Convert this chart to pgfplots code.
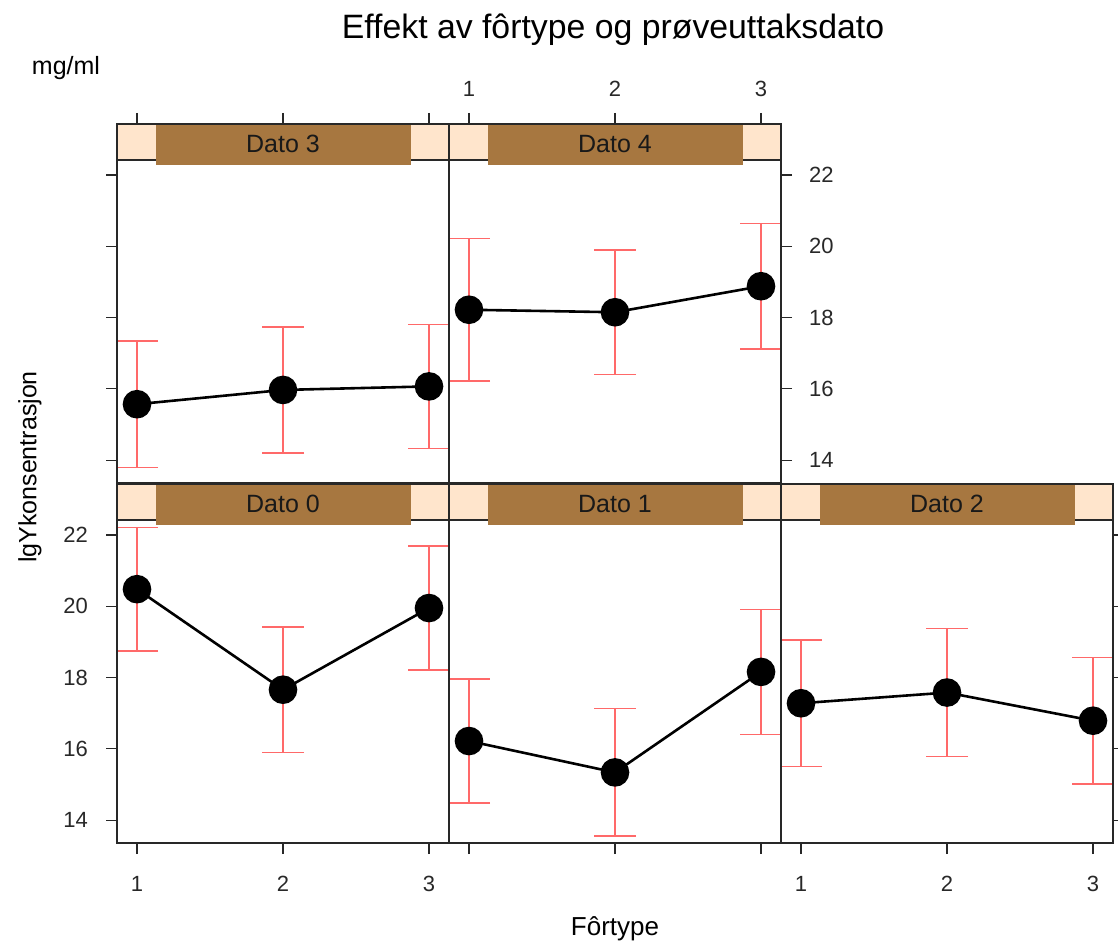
\documentclass[border=0pt]{standalone}
\usepackage{pgfplots}
\pgfplotsset{compat=1.18}
\usepackage{fontspec}
\setmainfont{Liberation Sans}
\definecolor{stripbg}{RGB}{255,229,204}
\definecolor{stripfg}{RGB}{167,119,64}
\definecolor{errred}{RGB}{255,105,105}
\definecolor{axgray}{RGB}{40,40,40}

\pgfplotsset{
  panel/.style={
    scale only axis, width=166pt, height=179.5pt,
    xmin=0.863, xmax=3.137, ymin=13.36, ymax=23.43,
    xtick={1,2,3}, ytick={14,16,18,20,22},
    tick align=outside, major tick length=5.5pt,
    axis line style={axgray, line width=0.75pt},
    every tick/.style={axgray, line width=0.6pt},
    tick label style={font=\fontsize{11}{13}\selectfont, text=axgray},
    /pgf/number format/assume math mode=true,
    axis on top=true,
    anchor=south west,
  },
  botlab/.style={xtick pos=left, xticklabel pos=left, xticklabel style={anchor=center, yshift=-15pt}},
  botnolab/.style={xtick pos=left, xticklabels={}},
  toplab/.style={xtick pos=right, xticklabel pos=right, xticklabel style={anchor=center, yshift=12pt}},
  topnolab/.style={xtick pos=right, xticklabels={}},
  leftlab/.style={ytick pos=left, yticklabel pos=left, yticklabel style={anchor=east, xshift=-5.5pt}},
  leftnolab/.style={ytick pos=left, yticklabels={}},
  rightlab/.style={ytick pos=right, yticklabel pos=right, yticklabel style={anchor=west, xshift=5pt}},
  rightnolab/.style={ytick pos=right, yticklabels={}},
  noy/.style={ytick=\empty},
  errplot/.style={only marks, mark=none, forget plot,
    error bars/.cd, y dir=both, y explicit,
    error mark=|,
    error bar style={errred, line width=0.75pt},
    error mark options={errred, line width=0.75pt, mark size=10.5pt}},
  meanplot/.style={black, line width=1.3pt, mark=*, mark size=6.5pt, mark options={fill=black, solid}},
}

\newcommand{\strip}[1]{%
  \fill[stripbg] (0.863,22.42) rectangle (3.137,23.43);
  \draw[axgray, line width=0.75pt] (0.863,22.42) -- (3.137,22.42);
  \fill[stripfg] (1.13,22.27) rectangle (2.88,23.43);
  \node[font=\fontsize{12.5}{15}\selectfont, text=black!90] at (2,22.86) {#1};
}

\begin{document}
\begin{tikzpicture}
\useasboundingbox (0,0) rectangle (559pt,471.5pt);

% Dato 0
\begin{axis}[panel, botlab, leftlab, at={(58.5pt,50pt)}]
\strip{Dato 0}
\addplot[errplot] coordinates {(1,20.48) +- (0,1.73) (2,17.66) +- (0,1.76) (3,19.95) +- (0,1.74)};
\addplot[meanplot] coordinates {(1,20.48) (2,17.66) (3,19.95)};
\end{axis}

% Dato 1
\begin{axis}[panel, botnolab, noy, at={(224.5pt,50pt)}]
\strip{Dato 1}
\addplot[errplot] coordinates {(1,16.22) +- (0,1.74) (2,15.34) +- (0,1.79) (3,18.16) +- (0,1.75)};
\addplot[meanplot] coordinates {(1,16.22) (2,15.34) (3,18.16)};
\end{axis}

% Dato 2
\begin{axis}[panel, botlab, rightnolab, at={(390.5pt,50pt)}]
\strip{Dato 2}
\addplot[errplot] coordinates {(1,17.28) +- (0,1.77) (2,17.58) +- (0,1.80) (3,16.79) +- (0,1.77)};
\addplot[meanplot] coordinates {(1,17.28) (2,17.58) (3,16.79)};
\end{axis}

% Dato 3
\begin{axis}[panel, topnolab, leftnolab, at={(58.5pt,230pt)}]
\strip{Dato 3}
\addplot[errplot] coordinates {(1,15.57) +- (0,1.78) (2,15.97) +- (0,1.77) (3,16.07) +- (0,1.74)};
\addplot[meanplot] coordinates {(1,15.57) (2,15.97) (3,16.07)};
\end{axis}

% Dato 4
\begin{axis}[panel, toplab, rightlab, at={(224.5pt,230pt)}]
\strip{Dato 4}
\addplot[errplot] coordinates {(1,18.22) +- (0,2.00) (2,18.15) +- (0,1.75) (3,18.88) +- (0,1.76)};
\addplot[meanplot] coordinates {(1,18.22) (2,18.15) (3,18.88)};
\end{axis}

\node[font=\fontsize{16.9}{20}\selectfont] at (306.5pt,456.5pt) {Effekt av fôrtype og prøveuttaksdato};
\node[font=\fontsize{12.5}{15}\selectfont] at (33pt,437.5pt) {mg/ml};
\node[font=\fontsize{13}{15}\selectfont] at (307.5pt,7pt) {Fôrtype};
\node[font=\fontsize{12.5}{15}\selectfont, rotate=90] at (15pt,238pt) {lgYkonsentrasjon};
\end{tikzpicture}
\end{document}
